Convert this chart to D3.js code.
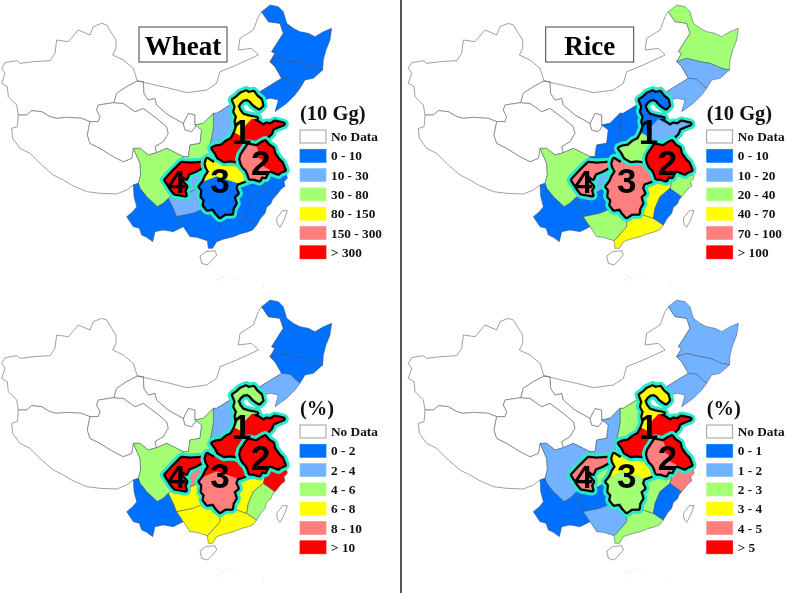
<!DOCTYPE html>
<html>
<head>
<meta charset="utf-8">
<script src="https://cdnjs.cloudflare.com/ajax/libs/d3/7.8.5/d3.min.js"></script>
<style>
html, body { margin: 0; padding: 0; background: #fff; }
svg { display: block; filter: blur(0.35px); }
.title { font-family: "Liberation Serif", serif; font-weight: bold; }
.legend { font-family: "Liberation Serif", serif; font-weight: bold; fill: #111; }
.region-number { font-family: "Liberation Sans", sans-serif; font-weight: bold; fill: #000; text-anchor: middle; }
</style>
</head>
<body>
<svg id="chart" width="787" height="593"></svg>
<script>
// province names, same order in every value list below
var provinces = ["Heilongjiang", "Jilin", "Liaoning", "Shanxi", "Shaanxi", "Sichuan", "Yunnan", "Guizhou", "Chongqing", "Guangxi", "Guangdong", "Jiangxi", "Fujian", "Zhejiang",
    "Hebei", "Shandong", "Henan", "Jiangsu", "Anhui", "Hubei", "Hunan", "Basin"];

// estimated from the class colours of each panel
var wheatOutput = [5, 5, 5, 20, 50, 50, 5, 20, 20, 5, 5, 5, 5, 5, 120, 400, 500, 350, 200, 120, 5, 320];
var riceOutput = [30, 15, 15, 5, 5, 30, 5, 5, 15, 30, 50, 50, 5, 30, 5, 15, 30, 120, 120, 80, 80, 80];
var wheatShare = [1, 1, 3, 3, 5, 5, 1, 7, 9, 7, 7, 7, 5, 12, 5, 12, 12, 12, 12, 12, 9, 12];
var riceShare = [1.5, 1.5, 1.5, 2.5, 1.5, 1.5, 0.5, 0.5, 2.5, 1.5, 2.5, 2.5, 0.5, 4.5, 3.5, 6, 6, 6, 4.5, 3.5, 2.5, 4.5];

var wheatBreaks = [10, 30, 80, 150, 300];
var riceBreaks = [10, 20, 40, 70, 100];
var wheatShareBreaks = [2, 4, 6, 8, 10];
var riceShareBreaks = [1, 2, 3, 4, 5];

var wheatLabels = ["0 - 10", "10 - 30", "30 - 80", "80 - 150", "150 - 300", "> 300"];
var riceLabels = ["0 - 10", "10 - 20", "20 - 40", "40 - 70", "70 - 100", "> 100"];
var wheatShareLabels = ["0 - 2", "2 - 4", "4 - 6", "6 - 8", "8 - 10", "> 10"];
var riceShareLabels = ["0 - 1", "1 - 2", "2 - 3", "3 - 4", "4 - 5", "> 5"];

var classColors = ["#0070ff", "#73b2ff", "#a3ff73", "#ffff00", "#ff7f7f", "#ff0000"];

// rough boundaries, in map units
var noDataShapes = {
    Xinjiang: [[305,70],[320,75],[335,100],[348,120],[348,145],[338,165],[370,180],[400,205],[412,243],[380,260],[350,280],[342,308],[295,315],[290,330],[300,350],[295,365],[270,365],[245,355],[200,352],[170,355],[150,350],[125,335],[95,332],[80,345],[55,345],[50,315],[25,290],[22,260],[5,250],[15,220],[5,205],[15,188],[50,182],[60,190],[100,185],[150,182],[165,160],[170,120],[205,125],[235,90],[270,105],[280,80]],
    Tibet: [[55,345],[52,380],[35,385],[38,415],[60,445],[90,460],[125,495],[160,525],[190,540],[215,555],[260,575],[300,580],[350,582],[380,570],[400,555],[415,550],[422,525],[420,490],[400,445],[395,475],[370,485],[340,470],[300,445],[270,430],[262,405],[270,365],[245,355],[200,352],[170,355],[150,350],[125,335],[95,332],[80,345]],
    Qinghai: [[295,315],[342,308],[370,310],[405,335],[430,325],[470,355],[500,380],[505,400],[490,425],[465,440],[470,458],[445,465],[420,445],[400,445],[395,475],[370,485],[340,470],[300,445],[270,430],[262,405],[270,365],[295,365],[300,350],[290,330]],
    Gansu: [[412,243],[430,245],[432,280],[445,300],[465,295],[470,315],[505,345],[550,370],[555,390],[575,395],[590,375],[605,390],[600,430],[570,435],[565,470],[550,470],[530,460],[500,445],[470,458],[465,440],[490,425],[505,400],[500,380],[470,355],[430,325],[405,335],[370,310],[342,308],[350,280],[380,260]],
    Ningxia: [[550,370],[565,340],[585,345],[585,375],[590,375],[575,395],[555,390]],
    InnerMongolia: [[412,243],[510,265],[560,278],[620,270],[650,250],[660,215],[710,195],[775,165],[755,145],[715,150],[720,115],[760,90],[775,50],[785,35],[805,65],[840,70],[850,100],[815,155],[825,160],[810,185],[825,200],[845,235],[780,275],[745,268],[700,290],[690,315],[650,340],[640,340],[610,370],[585,375],[585,345],[565,340],[550,370],[505,345],[470,315],[465,295],[445,300],[432,280],[430,245]],
    Hainan: [[600,768],[618,755],[645,752],[650,765],[632,785],[622,795],[605,790]],
    Taiwan: [[862,632],[852,660],[840,682],[832,672],[830,655],[848,632]]
};

var provinceShapes = {
    Heilongjiang: [[785,35],[810,15],[835,20],[850,35],[860,70],[880,85],[900,95],[925,100],[945,110],[970,95],[995,85],[990,120],[978,150],[970,180],[968,210],[945,205],[910,190],[880,185],[840,175],[810,185],[825,160],[815,155],[850,100],[840,70],[805,65]],
    Jilin: [[810,185],[840,175],[880,185],[910,190],[945,205],[968,210],[940,235],[915,240],[900,265],[888,255],[870,238],[845,235],[825,200]],
    Liaoning: [[780,275],[845,235],[870,238],[888,255],[900,265],[885,285],[860,310],[825,335],[835,300],[812,295],[790,300]],
    Shanxi: [[650,340],[690,315],[700,320],[708,365],[705,400],[680,425],[635,440],[630,435],[640,385],[640,340]],
    Shaanxi: [[585,375],[610,370],[640,340],[640,385],[630,435],[635,440],[625,470],[605,490],[540,490],[550,470],[565,470],[570,435],[600,430],[605,390]],
    Sichuan: [[400,445],[420,445],[445,465],[470,458],[500,445],[530,460],[550,470],[540,490],[495,540],[510,570],[525,580],[505,595],[490,610],[472,620],[440,590],[420,565],[415,550],[422,525],[420,490]],
    Yunnan: [[400,555],[415,550],[420,565],[440,590],[472,620],[490,610],[505,595],[520,625],[530,650],[550,680],[520,695],[490,690],[465,695],[458,725],[440,712],[425,705],[418,685],[400,680],[390,665],[380,650],[398,635],[410,620],[402,590]],
    Guizhou: [[505,595],[525,580],[555,585],[600,560],[605,600],[615,625],[580,640],[530,650],[520,625]],
    Chongqing: [[560,530],[595,510],[625,510],[610,545],[600,560],[555,585],[555,560]],
    Guangxi: [[550,680],[530,650],[580,640],[615,625],[635,625],[660,650],[660,680],[630,715],[622,722],[590,712],[570,710]],
    Guangdong: [[660,650],[695,640],[740,655],[770,675],[758,690],[745,695],[720,702],[700,710],[670,718],[650,725],[638,745],[625,745],[622,722],[630,715],[660,680]],
    Jiangxi: [[710,550],[750,535],[795,545],[790,565],[760,590],[745,625],[740,655],[695,640],[700,590]],
    Fujian: [[790,565],[825,590],[818,598],[812,612],[800,622],[795,640],[782,655],[770,675],[740,655],[745,625],[760,590]],
    Zhejiang: [[795,545],[795,520],[810,510],[835,520],[860,525],[862,535],[852,545],[855,558],[843,568],[832,582],[825,590],[790,565]],
    Hebei: [[700,300],[712,292],[722,282],[738,275],[745,280],[760,277],[770,290],[782,300],[786,316],[778,324],[768,318],[760,312],[752,302],[742,296],[730,298],[720,306],[712,318],[718,332],[728,345],[745,350],[770,355],[755,358],[730,385],[725,410],[705,400],[712,380],[708,365],[712,350],[704,335],[708,320]],
    Shandong: [[725,410],[730,385],[755,358],[775,368],[790,378],[800,372],[812,374],[825,366],[850,372],[835,378],[818,385],[812,400],[800,412],[795,425],[785,430],[770,440],[745,435],[730,432]],
    Henan: [[638,445],[650,440],[665,438],[680,425],[695,418],[705,400],[725,410],[730,432],[745,435],[735,450],[725,465],[722,478],[725,490],[708,482],[690,480],[672,482],[655,472],[648,458]],
    Jiangsu: [[770,440],[785,430],[795,425],[805,437],[818,445],[822,462],[835,480],[845,490],[853,510],[840,515],[835,520],[810,510],[790,500],[785,480],[770,470],[775,455]],
    Anhui: [[725,465],[735,450],[745,435],[770,440],[775,455],[770,470],[785,480],[790,500],[810,510],[800,518],[795,530],[785,528],[778,540],[762,535],[750,535],[745,520],[740,510],[730,500],[725,490],[722,478]],
    Hubei: [[622,478],[640,490],[655,472],[672,482],[690,480],[708,482],[725,490],[730,500],[740,510],[745,520],[750,535],[725,545],[710,550],[695,545],[650,530],[612,545],[618,530],[628,515],[620,500],[618,490]],
    Hunan: [[612,545],[650,530],[695,545],[710,550],[705,565],[712,580],[700,590],[706,610],[697,625],[695,640],[675,640],[660,650],[650,640],[640,625],[622,628],[612,615],[615,600],[606,590],[608,570],[600,560]],
    Basin: [[497,540],[515,520],[530,505],[545,490],[570,492],[603,490],[604,502],[585,512],[565,520],[558,535],[545,525],[545,545],[558,560],[552,572],[556,585],[540,582],[525,580],[515,568],[505,552]]
};

var islandDots = [[655,838],[662,828],[670,832],[680,822],[690,826],[705,838],[790,858],[660,850]];

// provinces with the thick outline, one list per numbered region
var regions = [
    { number: "4", members: ["Basin"], at: [530, 578], size: 32 },
    { number: "3", members: ["Hubei", "Hunan"], at: [660, 578], size: 35 },
    { number: "1", members: ["Hebei", "Shandong", "Henan"], at: [725, 432], size: 35 },
    { number: "2", members: ["Jiangsu", "Anhui"], at: [782, 526], size: 35 }
];

var panels = [
    { title: "Wheat", unit: "(10 Gg)", values: wheatOutput, breaks: wheatBreaks, labels: wheatLabels, x: 0, y: 0, box: [139, 27, 88, 35] },
    { title: "Rice", unit: "(10 Gg)", values: riceOutput, breaks: riceBreaks, labels: riceLabels, x: 406.7, y: 0, box: [139, 27, 88, 35] },
    { unit: "(%)", values: wheatShare, breaks: wheatShareBreaks, labels: wheatShareLabels, x: 0, y: 295 },
    { unit: "(%)", values: riceShare, breaks: riceShareBreaks, labels: riceShareLabels, x: 406.7, y: 295 }
];

var svg = d3.select("#chart");

function feature(ring)
{
    var closed = ring.concat([ring[0]]);
    return { type: "Polygon", coordinates: [closed] };
}

function drawPanel(panel)
{
    var g = svg.append("g");
    var projection = d3.geoIdentity().scale(1 / 3).translate([panel.x, panel.y]);
    var path = d3.geoPath().projection(projection);
    var color = d3.scaleThreshold().domain(panel.breaks).range(classColors);

    function provinceColor(name)
    {
        return color(panel.values[provinces.indexOf(name)]);
    }

    var noData = Object.keys(noDataShapes);
    g.selectAll("path.nodata")
        .data(noData)
        .enter().append("path")
        .attr("class", "nodata")
        .attr("d", function(d) { return path(feature(noDataShapes[d])); })
        .attr("fill", "#fff")
        .attr("stroke", "#777")
        .attr("stroke-width", 0.7);

    var inRegion = d3.merge(regions.map(function(r) { return r.members; }));
    var plain = provinces.filter(function(p) { return inRegion.indexOf(p) < 0; });

    g.selectAll("path.plain")
        .data(plain)
        .enter().append("path")
        .attr("class", "plain")
        .attr("d", function(d) { return path(feature(provinceShapes[d])); })
        .attr("fill", provinceColor)
        .attr("stroke", "#3a4a70")
        .attr("stroke-width", 0.5);

    // halo and black line sit under the fills, so only the outer edge of a region shows
    regions.forEach(function(region)
    {
        var rg = g.append("g");
        [["#2be8c8", 11], ["#000", 5]].forEach(function(s)
        {
            rg.selectAll(null)
                .data(region.members)
                .enter().append("path")
                .attr("d", function(d) { return path(feature(provinceShapes[d])); })
                .attr("fill", "none")
                .attr("stroke", s[0])
                .attr("stroke-width", s[1])
                .attr("stroke-linejoin", "round");
        });
        rg.selectAll(null)
            .data(region.members)
            .enter().append("path")
            .attr("d", function(d) { return path(feature(provinceShapes[d])); })
            .attr("fill", provinceColor)
            .attr("stroke", provinceColor)
            .attr("stroke-width", 0.6);
    });

    g.selectAll("text.region-number")
        .data(regions)
        .enter().append("text")
        .attr("class", "region-number")
        .attr("x", function(d) { return projection(d.at)[0]; })
        .attr("y", function(d) { return projection(d.at)[1]; })
        .attr("font-size", function(d) { return d.size; })
        .text(function(d) { return d.number; });

    g.selectAll("circle.dot")
        .data(islandDots)
        .enter().append("circle")
        .attr("cx", function(d) { return projection(d)[0]; })
        .attr("cy", function(d) { return projection(d)[1]; })
        .attr("r", 0.4)
        .attr("fill", "#999");

    // title box
    if(panel.title)
    {
        var bx = panel.x + panel.box[0], by = panel.y + panel.box[1];
        g.append("rect")
            .attr("x", bx).attr("y", by)
            .attr("width", panel.box[2]).attr("height", panel.box[3])
            .attr("fill", "#fff").attr("stroke", "#444").attr("stroke-width", 1);
        g.append("text")
            .attr("class", "title")
            .attr("x", bx + panel.box[2] / 2).attr("y", by + 28)
            .attr("text-anchor", "middle")
            .attr("font-size", 27)
            .text(panel.title);
    }

    // legend
    var lx = panel.x + 300, ly = panel.y + 120;
    g.append("text")
        .attr("class", "legend")
        .attr("x", lx).attr("y", ly)
        .attr("font-size", 20.5)
        .text(panel.unit);

    var rows = ["No Data"].concat(panel.labels);
    var step = d3.scalePoint().domain(d3.range(rows.length)).range([ly + 10, ly + 10 + 19.3 * 6]);
    rows.forEach(function(label, i)
    {
        g.append("rect")
            .attr("x", lx).attr("y", step(i))
            .attr("width", 26).attr("height", 13)
            .attr("fill", i == 0 ? "#fff" : classColors[i - 1])
            .attr("stroke", i == 0 ? "#777" : d3.color(classColors[i - 1]).brighter(0.3))
            .attr("stroke-width", 0.7);
        g.append("text")
            .attr("class", "legend")
            .attr("x", lx + 31).attr("y", step(i) + 11)
            .attr("font-size", 13.3)
            .text(label);
    });
}

panels.forEach(drawPanel);

// divider between wheat and rice
svg.append("line")
    .attr("x1", 401).attr("x2", 401)
    .attr("y1", 0).attr("y2", 593)
    .attr("stroke", "#555")
    .attr("stroke-width", 2);
</script>
</body>
</html>
